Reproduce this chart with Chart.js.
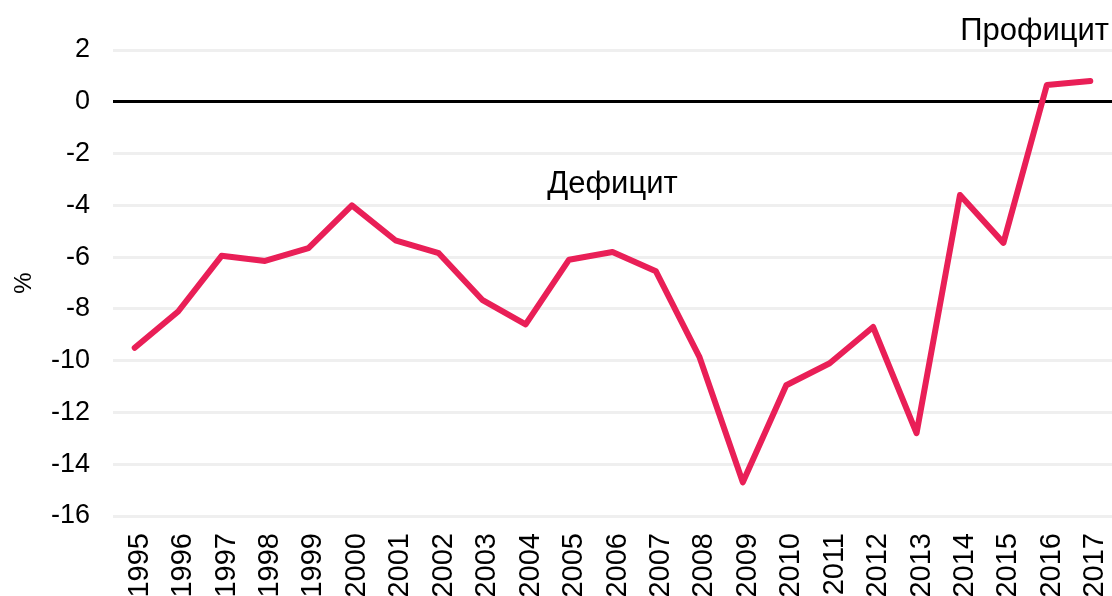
<!DOCTYPE html>
<html>
<head>
<meta charset="utf-8">
<script src="https://cdn.jsdelivr.net/npm/chart.js@4"></script>
<style>
  html, body { margin: 0; padding: 0; background: #fff; overflow: hidden; }
  #wrap { width: 1112px; height: 596px; }
</style>
</head>
<body>
<div id="wrap"><canvas id="balanceChart" width="1112" height="596"></canvas></div>
<script>
var years = ['1995', '1996', '1997', '1998', '1999', '2000', '2001', '2002', '2003', '2004', '2005', '2006',
             '2007', '2008', '2009', '2010', '2011', '2012', '2013', '2014', '2015', '2016', '2017'];
var balance = [-9.5, -8.1, -5.95, -6.15, -5.65, -4.0, -5.35, -5.85, -7.65, -8.6, -6.1, -5.8,
               -6.55, -9.85, -14.7, -10.95, -10.1, -8.7, -12.8, -3.6, -5.45, 0.65, 0.8];
var yTicks = [2, 0, -2, -4, -6, -8, -10, -12, -14, -16];

var fontName = "'Liberation Sans', Arial, Helvetica, sans-serif";

// text labels for the two zones
var zoneText = {
    id: 'zoneText',
    afterDraw: function (chart) {
        var ctx = chart.ctx;
        var x = chart.scales.x;
        var y = chart.scales.y;
        ctx.save();
        ctx.fillStyle = '#000';
        ctx.font = '31px ' + fontName;
        ctx.textBaseline = 'middle';
        ctx.textAlign = 'center';
        ctx.fillText('Дефицит', x.getPixelForValue(11), y.getPixelForValue(-3.2));
        ctx.textAlign = 'right';
        ctx.fillText('Профицит', chart.width - 3, y.getPixelForValue(2.7));
        ctx.restore();
    }
};

var ctx = document.getElementById('balanceChart').getContext('2d');
var chart = new Chart(ctx, {
    type: 'line',
    data: {
        labels: years,
        datasets: [{
            label: '%',
            data: balance,
            borderColor: '#e91f57',
            backgroundColor: '#e91f57',
            borderWidth: 6,
            pointRadius: 0,
            tension: 0,
            borderCapStyle: 'round',
            borderJoinStyle: 'round'
        }]
    },
    options: {
        responsive: false,
        animation: false,
        layout: { padding: { top: 50, right: 0, left: 0, bottom: 0 } },
        plugins: {
            legend: { display: false },
            tooltip: { enabled: false }
        },
        scales: {
            x: {
                offset: true,
                grid: { display: false, drawTicks: false },
                border: { display: false },
                ticks: {
                    color: '#000',
                    font: { family: fontName, size: 29 },
                    minRotation: 90,
                    maxRotation: 90,
                    autoSkip: false,
                    padding: 17,
                    labelOffset: 5
                },
                afterFit: function (scale) {
                    scale.height = 80;
                    scale.paddingLeft = 0;
                    scale.paddingRight = 0;
                }
            },
            y: {
                min: -16,
                max: 2,
                afterBuildTicks: function (axis) {
                    axis.ticks = yTicks.map(function (v) { return { value: v }; });
                },
                grid: {
                    drawTicks: false,
                    color: function (c) { return c.tick && c.tick.value === 0 ? '#000' : '#efefef'; },
                    lineWidth: 3
                },
                border: { display: false },
                ticks: {
                    color: '#000',
                    font: { family: fontName, size: 27 },
                    padding: 23
                },
                title: {
                    display: true,
                    text: '%',
                    color: '#000',
                    font: { family: fontName, size: 24 },
                    padding: { top: 10, bottom: 0 }
                },
                afterFit: function (scale) {
                    scale.width = 113;
                }
            }
        }
    },
    plugins: [zoneText]
});
</script>
</body>
</html>
